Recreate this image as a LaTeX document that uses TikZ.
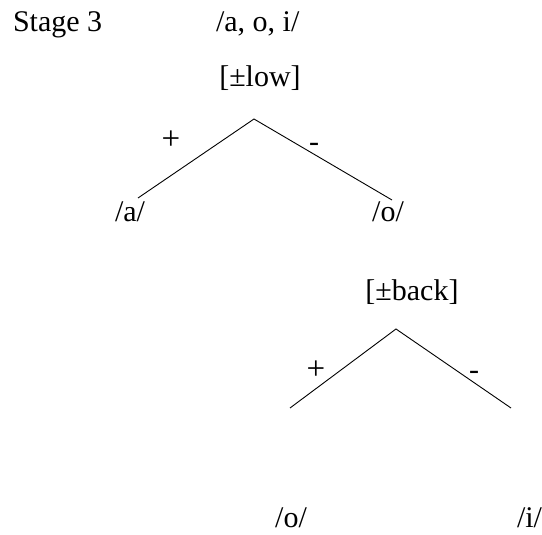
\documentclass[tikz,border=0pt]{standalone}
\usepackage{fontspec}
\setmainfont{Liberation Serif}
\begin{document}
\begin{tikzpicture}[x=1pt,y=-1pt,
  lbl/.style={inner sep=0pt,outer sep=0pt,font=\fontsize{30}{32}\selectfont},
  sgn/.style={inner sep=0pt,outer sep=0pt,font=\fontsize{33}{35}\selectfont},
  branch/.style={line width=0.9pt}]
\useasboundingbox (0,0) rectangle (542,535);
% headings
\node[lbl,anchor=base west] (stage) at (13,32) {Stage 3};
\node[lbl,anchor=base west] (set) at (216,32) {/a, o, i/};
% tree 1
\node[lbl,anchor=base] (low) at (260,87) {[±low]};
\coordinate (apexA) at (254,119);
\coordinate (leftA) at (138,198);
\coordinate (rightA) at (392,200);
\draw[branch] (leftA) -- (apexA) -- (rightA);
\node[sgn] (plusA) at (171,140) {+};
\node[lbl] (minusA) at (314,147) {-};
\node[lbl,anchor=base] (aA) at (130,222) {/a/};
\node[lbl,anchor=base] (oA) at (388,222) {/o/};
% tree 2
\node[lbl,anchor=base] (back) at (412,300) {[±back]};
\coordinate (apexB) at (396,329);
\coordinate (leftB) at (290,408);
\coordinate (rightB) at (511,408);
\draw[branch] (leftB) -- (apexB) -- (rightB);
\node[sgn] (plusB) at (316,370) {+};
\node[lbl] (minusB) at (474,375) {-};
\node[lbl,anchor=base] (oB) at (291,527) {/o/};
\node[lbl,anchor=base west] (iB) at (517,527) {/i/};
\end{tikzpicture}
\end{document}
